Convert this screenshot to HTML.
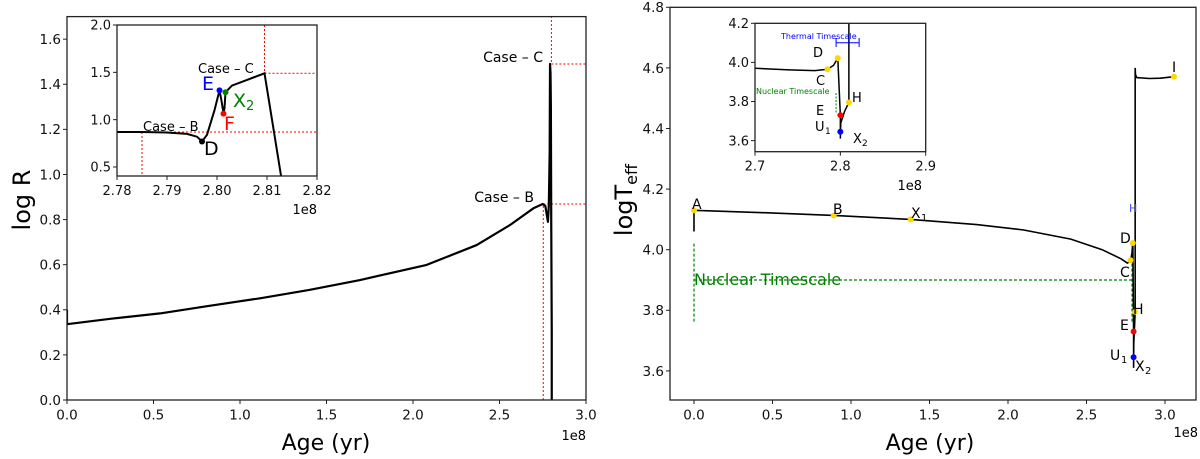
<!DOCTYPE html>
<html><head><meta charset="utf-8"><style>
html,body{margin:0;padding:0;background:#fff}
svg{display:block;font-family:"DejaVu Sans","Liberation Sans",sans-serif}
</style></head><body>
<svg id="fig" width="1200" height="459" viewBox="0 0 1200 459"></svg>
<script>
// ---- Left panel data (log R vs age, 1e8 yr) ----
const leftAge = [0,0,0.25,0.538,0.8,1.116,1.4,1.694,2.079,2.368,2.561,2.696,2.75,2.765,2.78,2.785,2.79,2.792,2.795,2.797,2.799,2.802,2.802];
const leftR   = [0.40,0.336,0.36,0.384,0.415,0.451,0.488,0.532,0.599,0.687,0.776,0.850,0.869,0.86,0.79,0.86,1.1,1.49,1.45,1.3,0.8,0.3,0.0];
const leftXTicks = [0,0.5,1.0,1.5,2.0,2.5,3.0];
const leftXLabels = ["0.0","0.5","1.0","1.5","2.0","2.5","3.0"];
const leftYTicks = [0,0.2,0.4,0.6,0.8,1.0,1.2,1.4,1.6];
const leftYLabels = ["0.0","0.2","0.4","0.6","0.8","1.0","1.2","1.4","1.6"];
// left inset
const insAge = [2.78,2.785,2.79,2.794,2.796,2.797,2.798,2.7995,2.8005,2.8009,2.8012,2.8013,2.8015,2.8017,2.803,2.806,2.8095,2.811,2.8128];
const insR   = [0.87,0.87,0.865,0.85,0.82,0.77,0.84,1.1,1.31,1.2,1.10,1.064,1.12,1.29,1.36,1.42,1.49,1.0,0.41];
const insXTicks = [2.78,2.79,2.80,2.81,2.82];
const insXLabels = ["2.78","2.79","2.80","2.81","2.82"];
const insYTicks = [0.5,1.0,1.5,2.0];
const insYLabels = ["0.5","1.0","1.5","2.0"];
const insPtNames = ["D","E","F","X2"];
const insPtAge = [2.797,2.8005,2.8013,2.8017];
const insPtR = [0.77,1.31,1.064,1.29];
// ---- Right panel data (log Teff vs age) ----
const rightAge = [0,0,0.45,0.89,1.38,1.8,2.1,2.4,2.6,2.72,2.76,2.78,2.79,2.795,2.80,2.80,2.801,2.81,2.81,2.812,2.82,2.9,2.97,3.057];
const rightT   = [4.06,4.13,4.122,4.113,4.10,4.083,4.065,4.035,4.0,3.97,3.956,3.962,3.99,4.022,3.73,3.61,3.69,3.795,4.60,4.578,4.568,4.565,4.566,4.571];
const rightXTicks = [0,0.5,1.0,1.5,2.0,2.5,3.0];
const rightXLabels = ["0.0","0.5","1.0","1.5","2.0","2.5","3.0"];
const rightYTicks = [3.6,3.8,4.0,4.2,4.4,4.6,4.8];
const rightYLabels = ["3.6","3.8","4.0","4.2","4.4","4.6","4.8"];
const rPtNames = ["A","B","X1","C","D","H","E","U1","I"];
const rPtAge = [0,0.89,1.38,2.78,2.795,2.81,2.80,2.80,3.057];
const rPtT = [4.13,4.113,4.10,3.965,4.022,3.795,3.73,3.645,4.571];
const rPtColor = ["gold","gold","gold","gold","gold","gold","red","blue","gold"];
// right inset
const rinsAge = [2.7,2.74,2.77,2.785,2.792,2.797,2.8,2.8,2.8005,2.805,2.81,2.81];
const rinsT   = [3.97,3.962,3.958,3.965,3.985,4.022,3.73,3.61,3.69,3.75,3.795,4.25];
const rinsXTicks = [2.7,2.8,2.9];
const rinsXLabels = ["2.7","2.8","2.9"];
const rinsYTicks = [3.6,3.8,4.0,4.2];
const rinsYLabels = ["3.6","3.8","4.0","4.2"];
const rinsPtAge = [2.785,2.797,2.81,2.8,2.8];
const rinsPtT = [3.965,4.022,3.795,3.73,3.645];
const rinsPtColor = ["gold","gold","gold","red","blue"];

const NS="http://www.w3.org/2000/svg";
const svg=document.getElementById('fig');
function el(tag,attrs,parent,text){const e=document.createElementNS(NS,tag);for(const k in attrs)e.setAttribute(k,attrs[k]);if(text!==undefined)e.textContent=text;(parent||svg).appendChild(e);return e;}
function lin(d0,d1,r0,r1){return v=>r0+(v-d0)/(d1-d0)*(r1-r0);}
function path(xs,ys,sx,sy){return xs.map((v,i)=>(i?'L':'M')+sx(v).toFixed(2)+','+sy(ys[i]).toFixed(2)).join(' ');}

function axes(g,box,sx,sy,xt,xl,yt,yl,fs){
  const [x0,y0,x1,y1]=box;
  for(let i=0;i<xt.length;i++){const x=sx(xt[i]);
    const t=el('line',{x1:x,y1:y1,x2:x,y2:y1+4,stroke:'#222','stroke-width':1},g);
    
    const l=el('text',{x:x,y:y1+6+fs,'font-size':fs,'text-anchor':'middle',fill:'#111'},g,xl[i]);
    }
  for(let i=0;i<yt.length;i++){const y=sy(yt[i]);
    const t=el('line',{x1:x0-4,y1:y,x2:x0,y2:y,stroke:'#222','stroke-width':1},g);
    
    const l=el('text',{x:x0-6,y:y+fs*0.36,'font-size':fs,'text-anchor':'end',fill:'#111'},g,yl[i]);
    }
}
function frame(g,box,name){const [x0,y0,x1,y1]=box;
  const r=el('rect',{x:x0,y:y0,width:x1-x0,height:y1-y0,fill:'none',stroke:'#222','stroke-width':1.3},g);
  }
function clip(id,box){const [x0,y0,x1,y1]=box;const c=el('clipPath',{id:id});el('rect',{x:x0,y:y0,width:x1-x0,height:y1-y0},c);}

// ===== LEFT PANEL =====
const LB=[67,16.6,586,400];
const lx=lin(0,3,67,586), ly=lin(0,1.7,400,16.6);
const gL=el('g',{});
clip('cL',LB);
axes(gL,LB,lx,ly,leftXTicks,leftXLabels,leftYTicks,leftYLabels,13.5);
const gLc=el('g',{'clip-path':'url(#cL)'},gL);
const caseBx=2.753, caseBy=0.869, caseCx=2.80, caseCy=1.49;
let e;
e=el('line',{x1:lx(caseBx),y1:ly(0),x2:lx(caseBx),y2:ly(caseBy),stroke:'red','stroke-width':1,'stroke-dasharray':'2,2'},gLc);
e=el('line',{x1:lx(caseBx),y1:ly(caseBy),x2:586,y2:ly(caseBy),stroke:'red','stroke-width':1,'stroke-dasharray':'2,2'},gLc);
e=el('line',{x1:lx(caseCx),y1:16,x2:lx(caseCx),y2:ly(caseCy),stroke:'red','stroke-width':1,'stroke-dasharray':'2,2'},gLc);
e=el('line',{x1:lx(caseCx),y1:ly(caseCy),x2:586,y2:ly(caseCy),stroke:'red','stroke-width':1,'stroke-dasharray':'2,2'},gLc);
e=el('path',{d:path(leftAge,leftR,lx,ly),fill:'none',stroke:'#000','stroke-width':2.2,'stroke-linejoin':'round'},gLc);
e=el('text',{x:543,y:62,'font-size':14,'text-anchor':'end'},gL,'Case – C');
e=el('text',{x:534,y:202,'font-size':14,'text-anchor':'end'},gL,'Case – B');
frame(gL,LB,'left-axes-frame');
e=el('text',{x:326,y:450,'font-size':22,'text-anchor':'middle'},gL,'Age (yr)');
e=el('text',{x:586,y:440,'font-size':13,'text-anchor':'end'},gL,'1e8');
e=el('text',{x:0,y:0,'font-size':24,'text-anchor':'middle',transform:'translate(30,200) rotate(-90)'},gL,'log R');

// left inset
const IB=[117,25,317,176];
const ix=lin(2.78,2.82,117,317), iy=lin(0.405,2.0,176,25);
const gI=el('g',{});
el('rect',{x:117,y:25,width:200,height:151,fill:'#fff'},gI);
clip('cI',IB);
axes(gI,IB,ix,iy,insXTicks,insXLabels,insYTicks,insYLabels,13);
const gIc=el('g',{'clip-path':'url(#cI)'},gI);
e=el('line',{x1:ix(2.8095),y1:25,x2:ix(2.8095),y2:iy(1.49),stroke:'red','stroke-width':1,'stroke-dasharray':'2,2'},gIc);
e=el('line',{x1:ix(2.8095),y1:iy(1.49),x2:317,y2:iy(1.49),stroke:'red','stroke-width':1,'stroke-dasharray':'2,2'},gIc);
e=el('line',{x1:ix(2.785),y1:iy(0.87),x2:317,y2:iy(0.87),stroke:'red','stroke-width':1,'stroke-dasharray':'2,2'},gIc);
e=el('line',{x1:ix(2.785),y1:iy(0.87),x2:ix(2.785),y2:176,stroke:'red','stroke-width':1,'stroke-dasharray':'2,2'},gIc);
e=el('path',{d:path(insAge,insR,ix,iy),fill:'none',stroke:'#000','stroke-width':2},gIc);
const insCol=['#000','blue','red','green'];
for(let i=0;i<insPtAge.length;i++){
  const c=el('circle',{cx:ix(insPtAge[i]),cy:iy(insPtR[i]),r:3,fill:insCol[i]},gI);
  
  
}
e=el('text',{x:198,y:73,'font-size':13},gI,'Case – C');
e=el('text',{x:143,y:131,'font-size':13},gI,'Case – B');
e=el('text',{x:202,y:90,'font-size':19,fill:'blue'},gI,'E');
e=el('text',{x:233,y:107,'font-size':19,fill:'green'},gI,'X');
e=el('text',{x:246,y:110,'font-size':13,fill:'green'},gI,'2');
e=el('text',{x:224,y:130,'font-size':19,fill:'red'},gI,'F');
e=el('text',{x:204,y:155,'font-size':19,fill:'#000'},gI,'D');
frame(gI,IB,'left-inset-frame');
e=el('text',{x:317,y:214,'font-size':13,'text-anchor':'end'},gI,'1e8');

// ===== RIGHT PANEL =====
const RB=[670,7.3,1196,400];
const rx=lin(0,3,694,1165), ry=lin(3.6,4.8,370.9,7.3);
const gR=el('g',{});
clip('cR',RB);
axes(gR,RB,rx,ry,rightXTicks,rightXLabels,rightYTicks,rightYLabels,13.5);
const gRc=el('g',{'clip-path':'url(#cR)'},gR);
const nucY=3.90, nucStart=0, nucEnd=2.79;
e=el('line',{x1:rx(nucStart),y1:ry(4.02),x2:rx(nucStart),y2:ry(3.76),stroke:'green','stroke-width':1.2,'stroke-dasharray':'3,2'},gRc);
e=el('line',{x1:rx(nucEnd),y1:ry(4.02),x2:rx(nucEnd),y2:ry(3.76),stroke:'green','stroke-width':1.2,'stroke-dasharray':'3,2'},gRc);
e=el('line',{x1:rx(nucStart),y1:ry(nucY),x2:rx(nucEnd),y2:ry(nucY),stroke:'green','stroke-width':1.2,'stroke-dasharray':'3,2'},gRc);
e=el('path',{d:path(rightAge,rightT,rx,ry),fill:'none',stroke:'#000','stroke-width':1.6},gRc);
for(let i=0;i<rPtAge.length;i++){
  const c=el('circle',{cx:rx(rPtAge[i]),cy:ry(rPtT[i]),r:3,fill:rPtColor[i]},gR);
  
  
}
const lbl=(t,x,y,n,fill,fs)=>{const t1=el('text',{x:x,y:y,'font-size':fs||14,fill:fill||'#000'},gR,t);return t1;};
lbl('Nuclear Timescale',694,285,'nuclear-timescale-label','green',16);
lbl('A',692,209,'label-a');lbl('B',833,214,'label-b');
lbl('X',911,218,'label-x1');lbl('1',921,221,'label-x1-sub','#000',10);
lbl('D',1120,243,'label-d');lbl('C',1120,277,'label-c');
lbl('H',1133,314,'label-h');lbl('E',1120,330,'label-e');
lbl('U',1110,360,'label-u1');lbl('1',1121,363,'label-u1-sub','#000',10);
lbl('X',1135,371,'label-x2');lbl('2',1145,374,'label-x2-sub','#000',10);
lbl('I',1172,72,'label-i');
lbl('H',1129,212,'label-h-blue','#4444ff',11);
frame(gR,RB,'right-axes-frame');
e=el('text',{x:930,y:450,'font-size':22,'text-anchor':'middle'},gR,'Age (yr)');
e=el('text',{x:1198,y:437,'font-size':13,'text-anchor':'end'},gR,'1e8');
const yt=el('text',{x:0,y:0,'font-size':24,'text-anchor':'middle',transform:'translate(632,200) rotate(-90)'},gR);

yt.appendChild(document.createTextNode('logT'));
const sub=el('tspan',{'font-size':16,dy:5},yt,'eff');

// right inset
const JB=[755,23.3,925.7,151.7];
const jx=lin(2.7,2.9,755,925.7), jy=lin(3.6,4.2,140.6,23.3);
const gJ=el('g',{});
el('rect',{x:755,y:23.3,width:170.7,height:128.4,fill:'#fff'},gJ);
clip('cJ',JB);
axes(gJ,JB,jx,jy,rinsXTicks,rinsXLabels,rinsYTicks,rinsYLabels,13);
const gJc=el('g',{'clip-path':'url(#cJ)'},gJ);
e=el('line',{x1:jx(2.795),y1:93,x2:jx(2.795),y2:113,stroke:'green','stroke-width':1,'stroke-dasharray':'2,1.5'},gJc);
e=el('path',{d:path(rinsAge,rinsT,jx,jy),fill:'none',stroke:'#000','stroke-width':1.5},gJc);
for(let i=0;i<rinsPtAge.length;i++){
  const c=el('circle',{cx:jx(rinsPtAge[i]),cy:jy(rinsPtT[i]),r:3,fill:rinsPtColor[i]},gJ);
  
  
}
const th0=jx(2.795), th1=jx(2.822);
e=el('path',{d:`M${th0},38V47M${th0},42.7H${th1}M${th1},38V47`,stroke:'blue','stroke-width':1,fill:'none'},gJ);
const jl=(t,x,y,n,fill,fs)=>{const t1=el('text',{x:x,y:y,'font-size':fs||13,fill:fill||'#000'},gJ,t);};
jl('Thermal Timescale',781,39,'thermal-timescale-label','blue',8);
jl('Nuclear Timescale',756,94,'inset-nuclear-label','green',8);
jl('D',813,57,'inset-label-d');jl('C',816,85,'inset-label-c');
jl('H',852,102,'inset-label-h');jl('E',816,115,'inset-label-e');
jl('U',815,131,'inset-label-u1');jl('1',825,134,'inset-label-u1-sub','#000',9);
jl('X',853,143,'inset-label-x2');jl('2',862,146,'inset-label-x2-sub','#000',9);
frame(gJ,JB,'right-inset-frame');
e=el('text',{x:922,y:190,'font-size':13,'text-anchor':'end'},gJ,'1e8');
</script>
</body></html>
